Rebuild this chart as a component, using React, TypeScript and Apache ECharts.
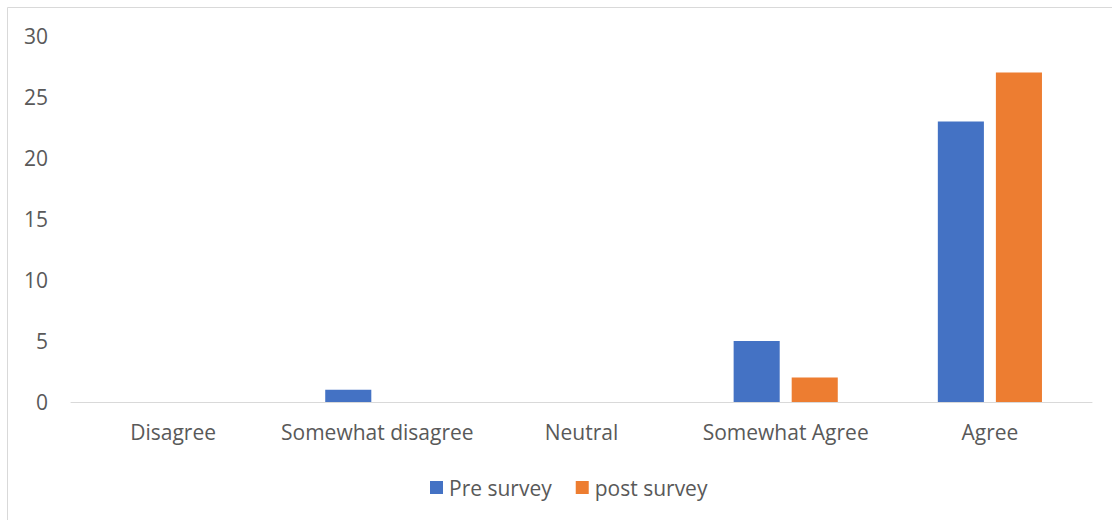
import React, { useEffect, useRef } from "react";
import * as echarts from "echarts";

const categories = ["Disagree", "Somewhat disagree", "Neutral", "Somewhat Agree", "Agree"];
const preSurvey = [0, 1, 0, 5, 23];
const postSurvey = [0, 0, 0, 2, 27];
const seriesNames = ["Pre survey", "post survey"];

const FONT = "'Open Sans', 'Noto Sans', sans-serif";
const TEXT = "#595959";
const FS = 21;

export default function App() {
  const ref = useRef<HTMLDivElement>(null);
  useEffect(() => {
    if (!ref.current) return;
    const chart = echarts.init(ref.current, undefined, { renderer: "svg" });
    chart.setOption({
      animation: false,
      backgroundColor: "#ffffff",
      textStyle: { fontFamily: FONT },
      graphic: [
        {
          type: "rect",
          shape: { x: 7.5, y: 7.5, width: 1300, height: 700 },
          style: { fill: "none", stroke: "#d9d9d9", lineWidth: 1 },
          silent: true,
        },
      ],
      grid: { left: 71, right: 20, top: 36, bottom: 118, containLabel: false },
      legend: {
        data: seriesNames,
        top: 472,
        left: 425,
        itemWidth: 13,
        itemHeight: 13,
        itemGap: 24,
        icon: "rect",
        textStyle: { color: TEXT, fontSize: FS, fontFamily: FONT, padding: [0, 0, 0, 1] },
      },
      xAxis: {
        type: "category",
        data: categories,
        axisLine: { show: true, lineStyle: { color: "#d9d9d9", width: 1 } },
        axisTick: { show: false },
        axisLabel: { color: TEXT, fontSize: FS, fontFamily: FONT, margin: 19, interval: 0 },
      },
      yAxis: {
        type: "value",
        min: 0,
        max: 30,
        interval: 5,
        splitLine: { show: false },
        axisLine: { show: false },
        axisTick: { show: false },
        axisLabel: { color: TEXT, fontSize: FS, fontFamily: FONT, margin: 23 },
      },
      series: [
        {
          name: seriesNames[0],
          type: "bar",
          data: preSurvey,
          itemStyle: { color: "#4472C4" },
          barGap: "26%",
          barCategoryGap: "49%",
        },
        {
          name: seriesNames[1],
          type: "bar",
          data: postSurvey,
          itemStyle: { color: "#ED7D31" },
          barGap: "26%",
          barCategoryGap: "49%",
        },
      ],
    });
    return () => chart.dispose();
  }, []);
  return (
    <div
      ref={ref}
      style={{ position: "fixed", left: 0, top: 0, width: 1112, height: 520 }}
    />
  );
}
